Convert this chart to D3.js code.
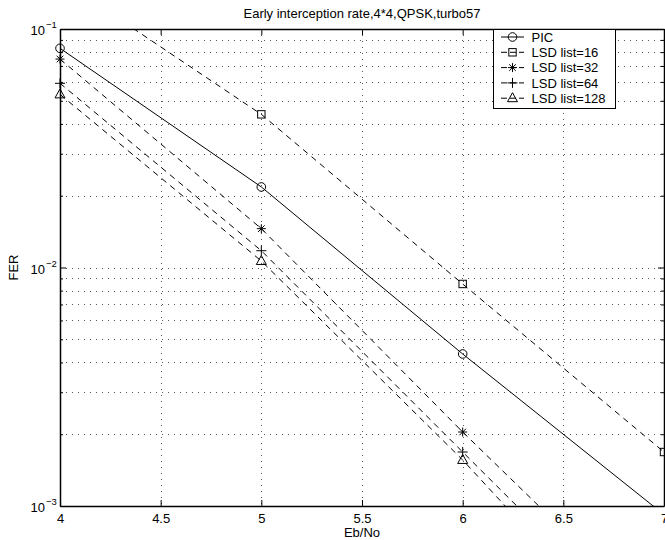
<!DOCTYPE html>
<html><head><meta charset="utf-8">
<script src="https://cdn.jsdelivr.net/npm/d3@7"></script>
<style>
html,body{margin:0;padding:0;background:#fff;}
svg text{font-family:"Liberation Sans",Arial,Helvetica,sans-serif;}
</style></head>
<body>
<svg id="c" width="665" height="540"></svg>
<script>
// ---- data ----
const ebno = [4, 5, 6, 7];
const seriesNames = ["PIC", "LSD list=16", "LSD list=32", "LSD list=64", "LSD list=128"];
const pic    = [0.0830, 0.02176, 0.00434, 0.00092];
const lsd16  = [0.1615, 0.04387, 0.00853, 0.001684];
const lsd32  = [0.0748, 0.01455, 0.002043, 0.000309];
const lsd64  = [0.0592, 0.01176, 0.001684, 0.000243];
const lsd128 = [0.0532, 0.01065, 0.00156, 0.00019];
const xTicks = [4, 4.5, 5, 5.5, 6, 6.5, 7];
const yMajorExps = [-3, -2, -1];
const titleText = "Early interception rate,4*4,QPSK,turbo57";
const xLabel = "Eb/No";
const yLabel = "FER";

const series = [
  {name: seriesNames[0], values: pic,    dash: null,  marker: "circle"},
  {name: seriesNames[1], values: lsd16,  dash: "6,5", marker: "square"},
  {name: seriesNames[2], values: lsd32,  dash: "6,5", marker: "star"},
  {name: seriesNames[3], values: lsd64,  dash: "6,5", marker: "plus"},
  {name: seriesNames[4], values: lsd128, dash: "6,5", marker: "triangle"}
];

// ---- layout ----
const L = 60, R = 664, T = 29, B = 506;
const svg = d3.select("#c");
const x = d3.scaleLinear().domain([4, 7]).range([L, R]);
const y = d3.scaleLog().domain([1e-3, 1e-1]).range([B, T]);

svg.append("defs").append("clipPath").attr("id", "clip")
  .append("rect").attr("x", L).attr("y", T).attr("width", R - L).attr("height", B - T);

// grid
const minorVals = [];
[-3, -2].forEach(e => { for (let k = 2; k <= 9; k++) minorVals.push(k * Math.pow(10, e)); });
const grid = svg.append("g");
xTicks.slice(1, -1).forEach(v => {
  grid.append("line").attr("x1", Math.round(x(v)) + 0.5).attr("x2", Math.round(x(v)) + 0.5).attr("y1", T).attr("y2", B)
    .attr("stroke", "#555").attr("stroke-width", 1).attr("stroke-dasharray", "1,5");
});
minorVals.concat([1e-2]).forEach(v => {
  grid.append("line").attr("x1", L).attr("x2", R).attr("y1", Math.round(y(v)) + 0.5).attr("y2", Math.round(y(v)) + 0.5)
    .attr("stroke", "#555").attr("stroke-width", 1).attr("stroke-dasharray", "1,5");
});

// axes with ticks (inward)
const axB = d3.axisBottom(x).tickValues(xTicks).tickFormat(d3.format("")).tickSizeInner(-6).tickSizeOuter(0).tickPadding(8);
const axT = d3.axisTop(x).tickValues(xTicks).tickFormat("").tickSizeInner(-6).tickSizeOuter(0);
const gB = svg.append("g").attr("transform", `translate(0,${B})`).call(axB);
const gT = svg.append("g").attr("transform", `translate(0,${T})`).call(axT);
[gB, gT].forEach(g => {
  g.select(".domain").attr("stroke", "#000").attr("stroke-width", 1.5);
  g.selectAll(".tick line").attr("stroke", "#000");
});
gB.selectAll(".tick text").attr("font-size", 13).attr("fill", "#000")
  .attr("font-family", "'Liberation Sans',Arial,sans-serif");

const majorVals = yMajorExps.map(e => Math.pow(10, e));
function yAxis(gen, tx, minorSize) {
  const g = svg.append("g").attr("transform", `translate(${tx},0)`);
  g.call(gen.tickValues(majorVals).tickFormat("").tickSizeInner(-6).tickSizeOuter(0));
  g.select(".domain").attr("stroke", "#000").attr("stroke-width", 1.5);
  g.selectAll(".tick line").attr("stroke", "#000");
  const gm = svg.append("g").attr("transform", `translate(${tx},0)`);
  gm.call(gen.scale(y).tickValues(minorVals).tickFormat("").tickSizeInner(minorSize).tickSizeOuter(0));
  gm.select(".domain").remove();
  gm.selectAll(".tick line").attr("stroke", "#000");
  return g;
}
yAxis(d3.axisLeft(y), L, -3);
yAxis(d3.axisRight(y), R, -3);

// y tick labels 10^e
yMajorExps.forEach(e => {
  svg.append("text").attr("x", 45).attr("y", y(Math.pow(10, e)) + 6)
    .attr("text-anchor", "end").attr("font-size", 13).attr("fill", "#000").text("10");
  svg.append("text").attr("x", 46).attr("y", y(Math.pow(10, e)) - 1)
    .attr("font-size", 9.5).attr("fill", "#000").text("\u2212" + Math.abs(e));
});

// title and labels
svg.append("text").attr("x", (L + R) / 2).attr("y", 18).attr("text-anchor", "middle")
  .attr("font-size", 13).attr("fill", "#000").text(titleText);
svg.append("text").attr("x", (L + R) / 2).attr("y", 537).attr("text-anchor", "middle")
  .attr("font-size", 13).attr("fill", "#000").text(xLabel);
svg.append("text").attr("transform", `translate(18,${(T + B) / 2}) rotate(-90)`).attr("text-anchor", "middle")
  .attr("font-size", 13).attr("fill", "#000").text(yLabel);

// markers
function drawMarker(g, type, cx, cy) {
  const s = 4.3;
  if (type === "circle") {
    g.append("circle").attr("cx", cx).attr("cy", cy).attr("r", s).attr("fill", "none").attr("stroke", "#000").attr("stroke-width", 1);
  } else if (type === "square") {
    g.append("rect").attr("x", cx - 3.7).attr("y", cy - 3.7).attr("width", 7.4).attr("height", 7.4).attr("fill", "none").attr("stroke", "#000").attr("stroke-width", 1);
  } else if (type === "triangle") {
    g.append("path").attr("d", `M${cx},${cy - 5.5}L${cx + 5},${cy + 3.5}L${cx - 5},${cy + 3.5}Z`).attr("fill", "none").attr("stroke", "#000").attr("stroke-width", 1);
  } else if (type === "plus") {
    g.append("path").attr("d", `M${cx - 5},${cy}H${cx + 5}M${cx},${cy - 5}V${cy + 5}`).attr("stroke", "#000").attr("stroke-width", 1);
  } else if (type === "star") {
    const a = 4.5, b = 3.3;
    g.append("path").attr("d", `M${cx - a},${cy}H${cx + a}M${cx},${cy - a}V${cy + a}M${cx - b},${cy - b}L${cx + b},${cy + b}M${cx - b},${cy + b}L${cx + b},${cy - b}`)
      .attr("stroke", "#000").attr("stroke-width", 1);
  }
}

const line = d3.line().x((d, i) => x(ebno[i])).y(d => y(d));
const plot = svg.append("g").attr("clip-path", "url(#clip)");
series.forEach(s => {
  plot.append("path").datum(s.values).attr("d", line).attr("fill", "none")
    .attr("stroke", "#000").attr("stroke-width", 1)
    .attr("stroke-dasharray", s.dash);
});
const mk = svg.append("g");
series.forEach(s => {
  s.values.forEach((v, i) => {
    if (v >= 1e-3 && v <= 1e-1) drawMarker(mk, s.marker, x(ebno[i]), y(v));
  });
});

// legend
const lg = svg.append("g");
lg.append("rect").attr("x", 493.5).attr("y", 29.5).attr("width", 122).attr("height", 79)
  .attr("fill", "#fff").attr("stroke", "#000").attr("stroke-width", 1);
series.forEach((s, i) => {
  const ly = 37 + i * 15.3;
  lg.append("line").attr("x1", 501).attr("x2", 524).attr("y1", ly).attr("y2", ly)
    .attr("stroke", "#000").attr("stroke-width", 1).attr("stroke-dasharray", s.dash ? "6,3" : null);
  drawMarker(lg, s.marker, 512.5, ly);
  lg.append("text").attr("x", 531.5).attr("y", ly + 4.7).attr("font-size", 13).attr("fill", "#000").text(s.name);
});
</script>
</body></html>
